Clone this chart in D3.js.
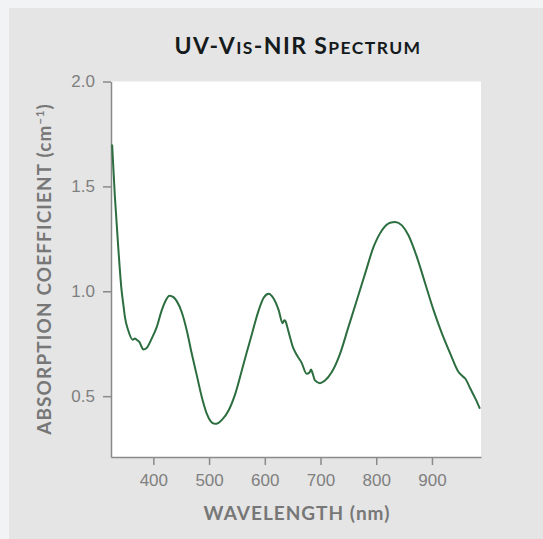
<!DOCTYPE html>
<html>
<head>
<meta charset="utf-8">
<script src="https://cdn.jsdelivr.net/npm/d3@7"></script>
<style>
  html, body { margin: 0; padding: 0; background: #f2f3f5; }
  svg { display: block; }
</style>
</head>
<body>
<div id="chart"></div>
<script>
// spectrum
const wavelengths = [326, 331, 337, 343, 346, 349, 355, 363, 367, 370, 375, 379, 382, 388, 397, 406, 415, 422, 429, 436,
  442, 451, 460, 469, 478, 487, 496, 503, 510, 517, 523, 535, 547, 562, 577, 589, 598, 607, 616, 625,
  632, 635, 637, 642, 651, 658, 666, 675, 680, 683, 686, 690, 699, 708, 720, 735, 750, 765, 780, 795,
  810, 825, 834, 846, 858, 873, 888, 903, 918, 933, 948, 955, 960, 969, 978, 986];
const absorption = [1.70, 1.449, 1.21, 1.004, 0.94, 0.877, 0.813, 0.769, 0.775, 0.769, 0.758, 0.735, 0.723, 0.730, 0.774, 0.829, 0.909, 0.955, 0.979, 0.972,
  0.953, 0.900, 0.813, 0.702, 0.599, 0.495, 0.416, 0.380, 0.368, 0.373, 0.387, 0.432, 0.511, 0.655, 0.798, 0.909, 0.969, 0.988, 0.964, 0.909,
  0.848, 0.862, 0.858, 0.813, 0.730, 0.694, 0.660, 0.607, 0.612, 0.627, 0.607, 0.575, 0.562, 0.575, 0.614, 0.702, 0.829, 0.956, 1.084, 1.21,
  1.29, 1.327, 1.330, 1.314, 1.266, 1.163, 1.036, 0.909, 0.798, 0.702, 0.614, 0.595, 0.583, 0.535, 0.488, 0.44];
const xTicks = [400, 500, 600, 700, 800, 900];
const yTicks = [0.5, 1.0, 1.5, 2.0];

const W = 543, H = 539;
const plot = { left: 111, right: 481, top: 81.5, bottom: 457 };

const svg = d3.select("#chart").append("svg")
    .attr("width", W)
    .attr("height", H);

// grey panel
svg.append("rect")
    .attr("x", 9).attr("y", 8)
    .attr("width", W - 9).attr("height", H - 8)
    .attr("fill", "#e5e5e5");

svg.append("rect")
    .attr("x", plot.left).attr("y", plot.top)
    .attr("width", plot.right - plot.left).attr("height", plot.bottom - plot.top)
    .attr("fill", "#ffffff");

const x = d3.scaleLinear().domain([324, 988]).range([plot.left, plot.right]);
const y = d3.scaleLinear().domain([0.21, 2.0]).range([plot.bottom, plot.top]);

const xAxis = svg.append("g")
    .attr("transform", `translate(0,${plot.bottom})`)
    .call(d3.axisBottom(x).tickValues(xTicks).tickSize(8).tickSizeOuter(0).tickPadding(9));

const yAxis = svg.append("g")
    .attr("transform", `translate(${plot.left},0)`)
    .call(d3.axisLeft(y).tickValues(yTicks).tickFormat(d3.format(".1f")).tickSize(8).tickSizeOuter(0).tickPadding(8));

[xAxis, yAxis].forEach(g => {
    g.select(".domain").attr("stroke", "#8a8a8a").attr("stroke-width", 1.5);
    g.selectAll(".tick line").attr("stroke", "#8a8a8a").attr("stroke-width", 1.5);
    g.selectAll(".tick text")
        .attr("fill", "#7f7f7f")
        .style("font-family", "'Liberation Sans', Arial, sans-serif")
        .style("font-size", "17px");
});

const line = d3.line()
    .x((d, i) => x(wavelengths[i]))
    .y(d => y(d))
    .curve(d3.curveMonotoneX);

svg.append("path")
    .datum(absorption)
    .attr("d", line)
    .attr("fill", "none")
    .attr("stroke", "#2c6e3f")
    .attr("stroke-width", 2);

// title, small caps done by hand
const title = svg.append("text")
    .attr("x", 298).attr("y", 54)
    .attr("text-anchor", "middle")
    .attr("fill", "#151a1c")
    .style("font-family", "Lato, sans-serif")
    .style("font-weight", "700")
    .style("font-size", "23px")
    .style("letter-spacing", "1.4px");
[["UV-V", 23], ["IS", 17.5], ["-NIR S", 23], ["PECTRUM", 17.5]].forEach(([t, s]) => {
    title.append("tspan").style("font-size", s + "px").text(t);
});

svg.append("text")
    .attr("x", 297).attr("y", 520)
    .attr("text-anchor", "middle")
    .attr("fill", "#777777")
    .style("font-family", "Lato, sans-serif")
    .style("font-weight", "700")
    .style("font-size", "19px")
    .style("letter-spacing", "1px")
    .text("WAVELENGTH (nm)");

const yLabel = svg.append("text")
    .attr("transform", "translate(51,269) rotate(-90)")
    .attr("text-anchor", "middle")
    .attr("fill", "#777777")
    .style("font-family", "Lato, sans-serif")
    .style("font-weight", "700")
    .style("font-size", "19px")
    .style("letter-spacing", "1.1px");
yLabel.append("tspan").text("ABSORPTION COEFFICIENT (cm");
yLabel.append("tspan").attr("dy", -7).style("font-size", "11px").text("−1");
yLabel.append("tspan").attr("dy", 7).text(")");
</script>
</body>
</html>
